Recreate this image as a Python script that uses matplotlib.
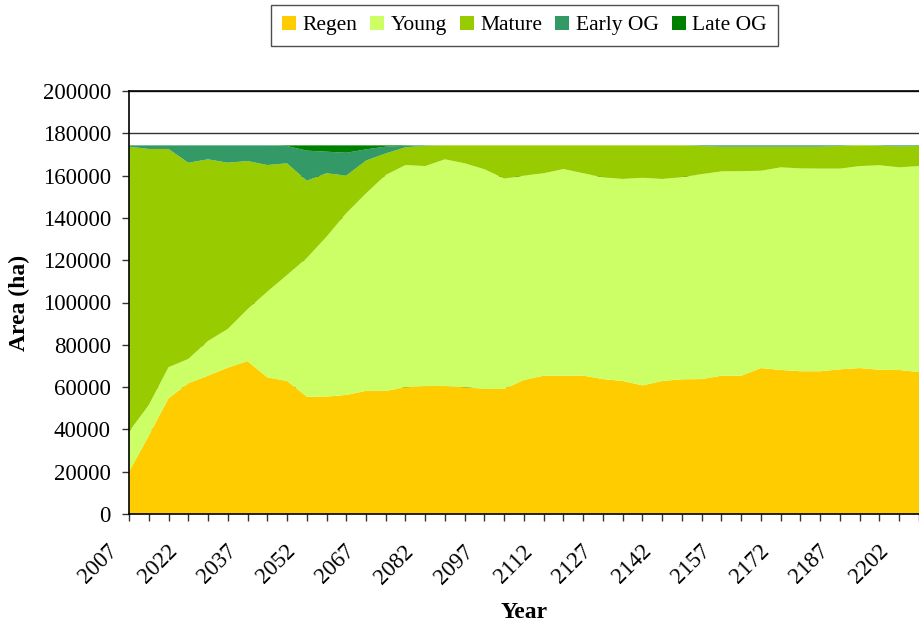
import matplotlib
matplotlib.use('Agg')
import matplotlib.pyplot as plt
import matplotlib.transforms as mtransforms
import numpy as np

# forest area by seral stage, 5-year steps
years = list(range(2007, 2208, 5))
labels = ['Regen', 'Young', 'Mature', 'Early OG', 'Late OG']
colors = ['#FFCC00', '#CCFF66', '#99CC00', '#339966', '#008000']

regen = [20000, 37000, 54700, 61800, 65400, 69200, 72300, 64600, 62900, 55500,
         55500, 56300, 58200, 58200, 59900, 60500, 60500, 59900, 59100, 59100,
         63400, 65400, 65400, 65400, 63800, 62900, 60800, 62900, 63700, 63800,
         65400, 65400, 69000, 68100, 67500, 67500, 68400, 69000, 68200, 68100,
         67100]
young = [18900, 14500, 14700, 11500, 16400, 18300, 24500, 40500, 50100, 65500,
         75600, 85900, 93400, 102100, 105100, 104000, 107200, 105900, 103900, 99500,
         96600, 95700, 97700, 95700, 95400, 95500, 98200, 95500, 95600, 96900,
         96600, 96700, 93300, 95800, 95900, 95800, 94900, 95500, 96700, 95800,
         97400]
mature = [134800, 121100, 103200, 92800, 85900, 78600, 70100, 59900, 52800, 36600,
          30000, 17800, 15500, 10200, 8400, 9600, 6600, 8500, 11300, 15700,
          14300, 13200, 11200, 13200, 15100, 15900, 15300, 15900, 15000, 13300,
          11700, 11600, 11400, 9800, 10300, 10400, 10700, 9800, 9200, 9900,
          9500]
early_og = [600, 1700, 1700, 8200, 6600, 8200, 7400, 9300, 8200, 14200,
            10200, 10800, 5300, 3200, 700, 200, 0, 0, 0, 0,
            0, 0, 0, 0, 0, 0, 0, 0, 0, 300,
            600, 600, 600, 600, 600, 600, 300, 0, 200, 500,
            300]
late_og = [0, 0, 0, 0, 0, 0, 0, 0, 300, 2500,
           3000, 3500, 1900, 600, 200, 0, 0, 0, 0, 0,
           0, 0, 0, 0, 0, 0, 0, 0, 0, 0,
           0, 0, 0, 0, 0, 0, 0, 0, 0, 0,
           0]

plt.rcParams['font.family'] = ['Liberation Serif', 'DejaVu Serif']

fig = plt.figure(figsize=(9.19, 6.26), dpi=100)
ax = fig.add_axes([129 / 919, 1 - 514 / 626, 1 - 129 / 919, (514 - 91) / 626])

ax.stackplot(years, regen, young, mature, early_og, late_og,
             labels=labels, colors=colors, linewidth=0, zorder=2)

ax.set_xlim(years[0], years[-1])
ax.set_ylim(0, 200000)
ax.set_yticks(np.arange(0, 200001, 20000))
ax.yaxis.grid(True, color='#333333', linewidth=1, zorder=0)
ax.set_axisbelow(True)

ax.set_xticks(years[::3])
ax.set_xticks(years, minor=True)
ax.tick_params(axis='both', which='both', direction='out', length=5,
               width=1, labelsize=16.5, color='#333333')
ax.tick_params(axis='y', pad=8)
ax.tick_params(axis='x', which='major', pad=14.4)
ax.set_xticklabels([str(y) for y in years[::3]], rotation=45,
                   ha='right', va='top')
shift = mtransforms.ScaledTranslation(-0.07, 0, fig.dpi_scale_trans)
for lab in ax.get_xticklabels():
    lab.set_transform(lab.get_transform() + shift)

for side in ['top', 'left', 'bottom']:
    ax.spines[side].set_color('black')
    ax.spines[side].set_linewidth(1.2)
ax.spines['right'].set_visible(False)

ax.set_xlabel('Year', fontsize=17, fontweight='bold', labelpad=10)
ax.set_ylabel('Area (ha)', fontsize=17, fontweight='bold', labelpad=9)

leg = fig.legend(loc='center', bbox_to_anchor=(524.5 / 919, 1 - 25.5 / 626),
                 ncol=5, fontsize=15.5, frameon=True, fancybox=False,
                 edgecolor='#222222', handlelength=0.65, handleheight=0.65,
                 handletextpad=0.3, columnspacing=0.6, borderpad=0.5)
leg.get_frame().set_linewidth(1)

fig.savefig('out.png', dpi=100)
